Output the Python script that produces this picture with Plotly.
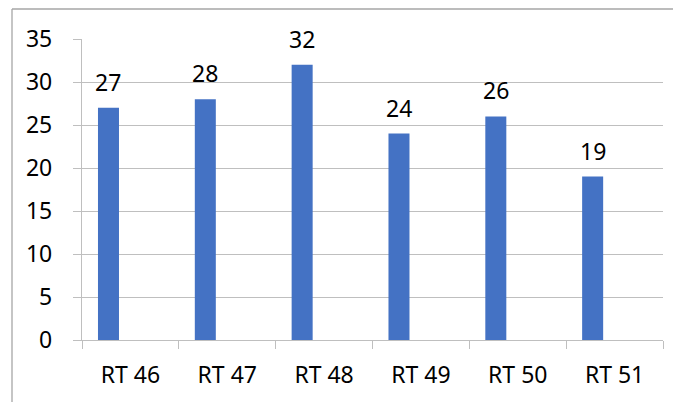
import plotly.graph_objects as go

categories = ["RT 46", "RT 47", "RT 48", "RT 49", "RT 50", "RT 51"]
values = [27, 28, 32, 24, 26, 19]

FONT = "Noto Sans"
FS = 23
PAGE_PAD = 8  # default body margin of the page
W, H = 681 - PAGE_PAD, 402 - PAGE_PAD
ML, MT = 82 - PAGE_PAD, 39 - PAGE_PAD
pw, ph = 581, 301
MR = W - ML - pw
MB = H - MT - ph

fig = go.Figure()
fig.add_trace(go.Bar(
    x=categories, y=values,
    marker=dict(color="#4472C4", line=dict(width=0)),
    width=0.217, offset=-0.335,
    hoverinfo="x+y",
))

for c, v in zip(categories, values):
    fig.add_annotation(x=c, y=v, text=str(v), showarrow=False,
                       xshift=-22, yshift=26, yanchor="middle",
                       font=dict(family=FONT, size=FS, color="#000000"))

# outer chart border (cropped at right/bottom)
bx = (12 - 82) / pw
by = (340 - 9) / ph
fig.add_shape(type="line", xref="paper", yref="paper", x0=bx, x1=(700 - 82) / pw,
              y0=by, y1=by, line=dict(color="#A6A6A6", width=1.3))
fig.add_shape(type="line", xref="paper", yref="paper", x0=bx, x1=bx,
              y0=by, y1=(340 - 420) / ph, line=dict(color="#A6A6A6", width=1.3))

fig.update_layout(
    width=W, height=H,
    margin=dict(l=ML, r=MR, t=MT, b=MB),
    paper_bgcolor="white", plot_bgcolor="white",
    showlegend=False,
    font=dict(family=FONT, size=FS, color="#000000"),
    xaxis=dict(
        type="category", tickson="boundaries",
        showgrid=False, showline=True, linecolor="#BFBFBF", linewidth=1.3,
        ticks="outside", ticklen=8, tickcolor="#BFBFBF", tickwidth=1.3,
        ticklabelstandoff=14,
        tickfont=dict(family=FONT, size=FS, color="#000000"),
    ),
    yaxis=dict(
        range=[0, 35], dtick=5, tick0=0,
        showgrid=True, gridcolor="#BFBFBF", gridwidth=1.3,
        showline=True, linecolor="#BFBFBF", linewidth=1.3,
        ticks="outside", ticklen=8, tickcolor="#BFBFBF", tickwidth=1.3,
        ticklabelstandoff=16, zeroline=False,
        tickfont=dict(family=FONT, size=FS, color="#000000"),
    ),
)

fig.write_html("out.html")
